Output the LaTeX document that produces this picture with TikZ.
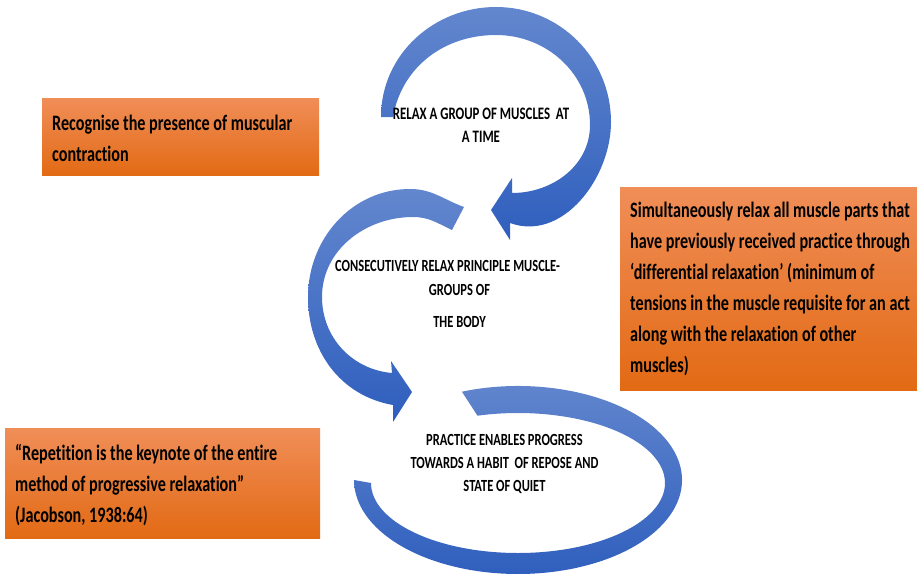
\documentclass[tikz,border=0pt]{standalone}
\usepackage{fontspec}
\setmainfont{Carlito}
\newfontfamily\cfont[FakeStretch=0.735,Ligatures=NoCommon]{Carlito}
\usetikzlibrary{calc}
\definecolor{bluetop}{RGB}{99,135,206}
\definecolor{bluebot}{RGB}{46,94,189}
\definecolor{ortop}{RGB}{240,142,88}
\definecolor{ormid}{RGB}{245,125,35}
\definecolor{orbot}{RGB}{226,106,20}
\tikzset{
 arrowband/.style={top color=bluetop,bottom color=bluebot,draw=none},
 obox/.style={top color=ortop,middle color=ormid,bottom color=orbot,draw=none,rectangle,inner sep=0pt,anchor=north west},
 boxtext/.style={anchor=base west,inner sep=0pt,align=left,font={\cfont\bfseries\fontsize{22}{31}\selectfont}},
 cyctext/.style={anchor=base,inner sep=0pt,align=center,font={\cfont\bfseries\fontsize{17}{23}\selectfont}},
}
\begin{document}
\begin{tikzpicture}[x=1pt,y=1pt]
\useasboundingbox (0,0) rectangle (917,-575);
% arrow 1 (top)
\shade[arrowband] (381,-117) to[out=90,in=180] (496,-7) to[out=0,in=90] (611,-122)
  to[out=-90,in=-20] (510,-223) -- (510,-240) -- (491,-210) -- (512,-178) -- (512,-193)
  to[out=0,in=-90] (590,-125) to[out=90,in=0] (496,-35) to[out=180,in=80] (393,-117) -- cycle;
% arrow 2 (middle)
\shade[arrowband] (464,-207) to[out=160,in=0] (410,-189) to[out=180,in=90] (308,-297)
  to[out=-90,in=170] (393,-405) -- (393,-422) -- (412,-392) -- (391,-361) -- (392,-373)
  to[out=175,in=-90] (322,-297) to[out=90,in=180] (413,-217) to[out=0,in=155] (452,-230) -- cycle;
% arrow 3 (bottom)
\shade[arrowband] ($(518,-480)+(110:164pt and 94pt)$)
  arc[start angle=110,end angle=-180,x radius=164pt,y radius=94pt]
  -- ($(518,-483)+(180:147pt and 70pt)$)
  arc[start angle=-180,end angle=106,x radius=147pt,y radius=70pt] -- cycle;
% orange boxes
\node[obox,minimum width=277pt,minimum height=77pt] (b1) at (42,-98) {};
\node[obox,minimum width=297pt,minimum height=203pt] (b2) at (620,-187) {};
\node[obox,minimum width=315pt,minimum height=110pt] (b3) at (5,-428) {};
\node[boxtext] (t1) at (52,-161) {Recognise the presence of muscular\\contraction};
\node[boxtext] (t2) at (630,-372) {Simultaneously relax all muscle parts that\\have previously received practice through\\‘differential relaxation’ (minimum of\\tensions in the muscle requisite for an act\\along with the relaxation of other\\muscles)};
\node[boxtext] (t3) at (15,-522) {“Repetition is the keynote of the entire\\method of progressive relaxation”\\(Jacobson, 1938:64)};
% cycle texts
\node[cyctext,font={\cfont\bfseries\fontsize{17.5}{23}\selectfont}] (c1) at (481,-142) {RELAX A GROUP OF MUSCLES\ \ AT\\A TIME};
\node[cyctext,anchor=base west] (c2a) at (335,-271) {CONSECUTIVELY RELAX PRINCIPLE MUSCLE-};
\node[cyctext] (c2b) at (459.5,-295) {GROUPS OF};
\node[cyctext] (c2c) at (459.5,-327) {THE BODY};
\node[cyctext] (c3) at (504.5,-491) {PRACTICE ENABLES PROGRESS\\TOWARDS A HABIT\ \ OF REPOSE AND\\STATE OF QUIET};
\end{tikzpicture}
\end{document}
